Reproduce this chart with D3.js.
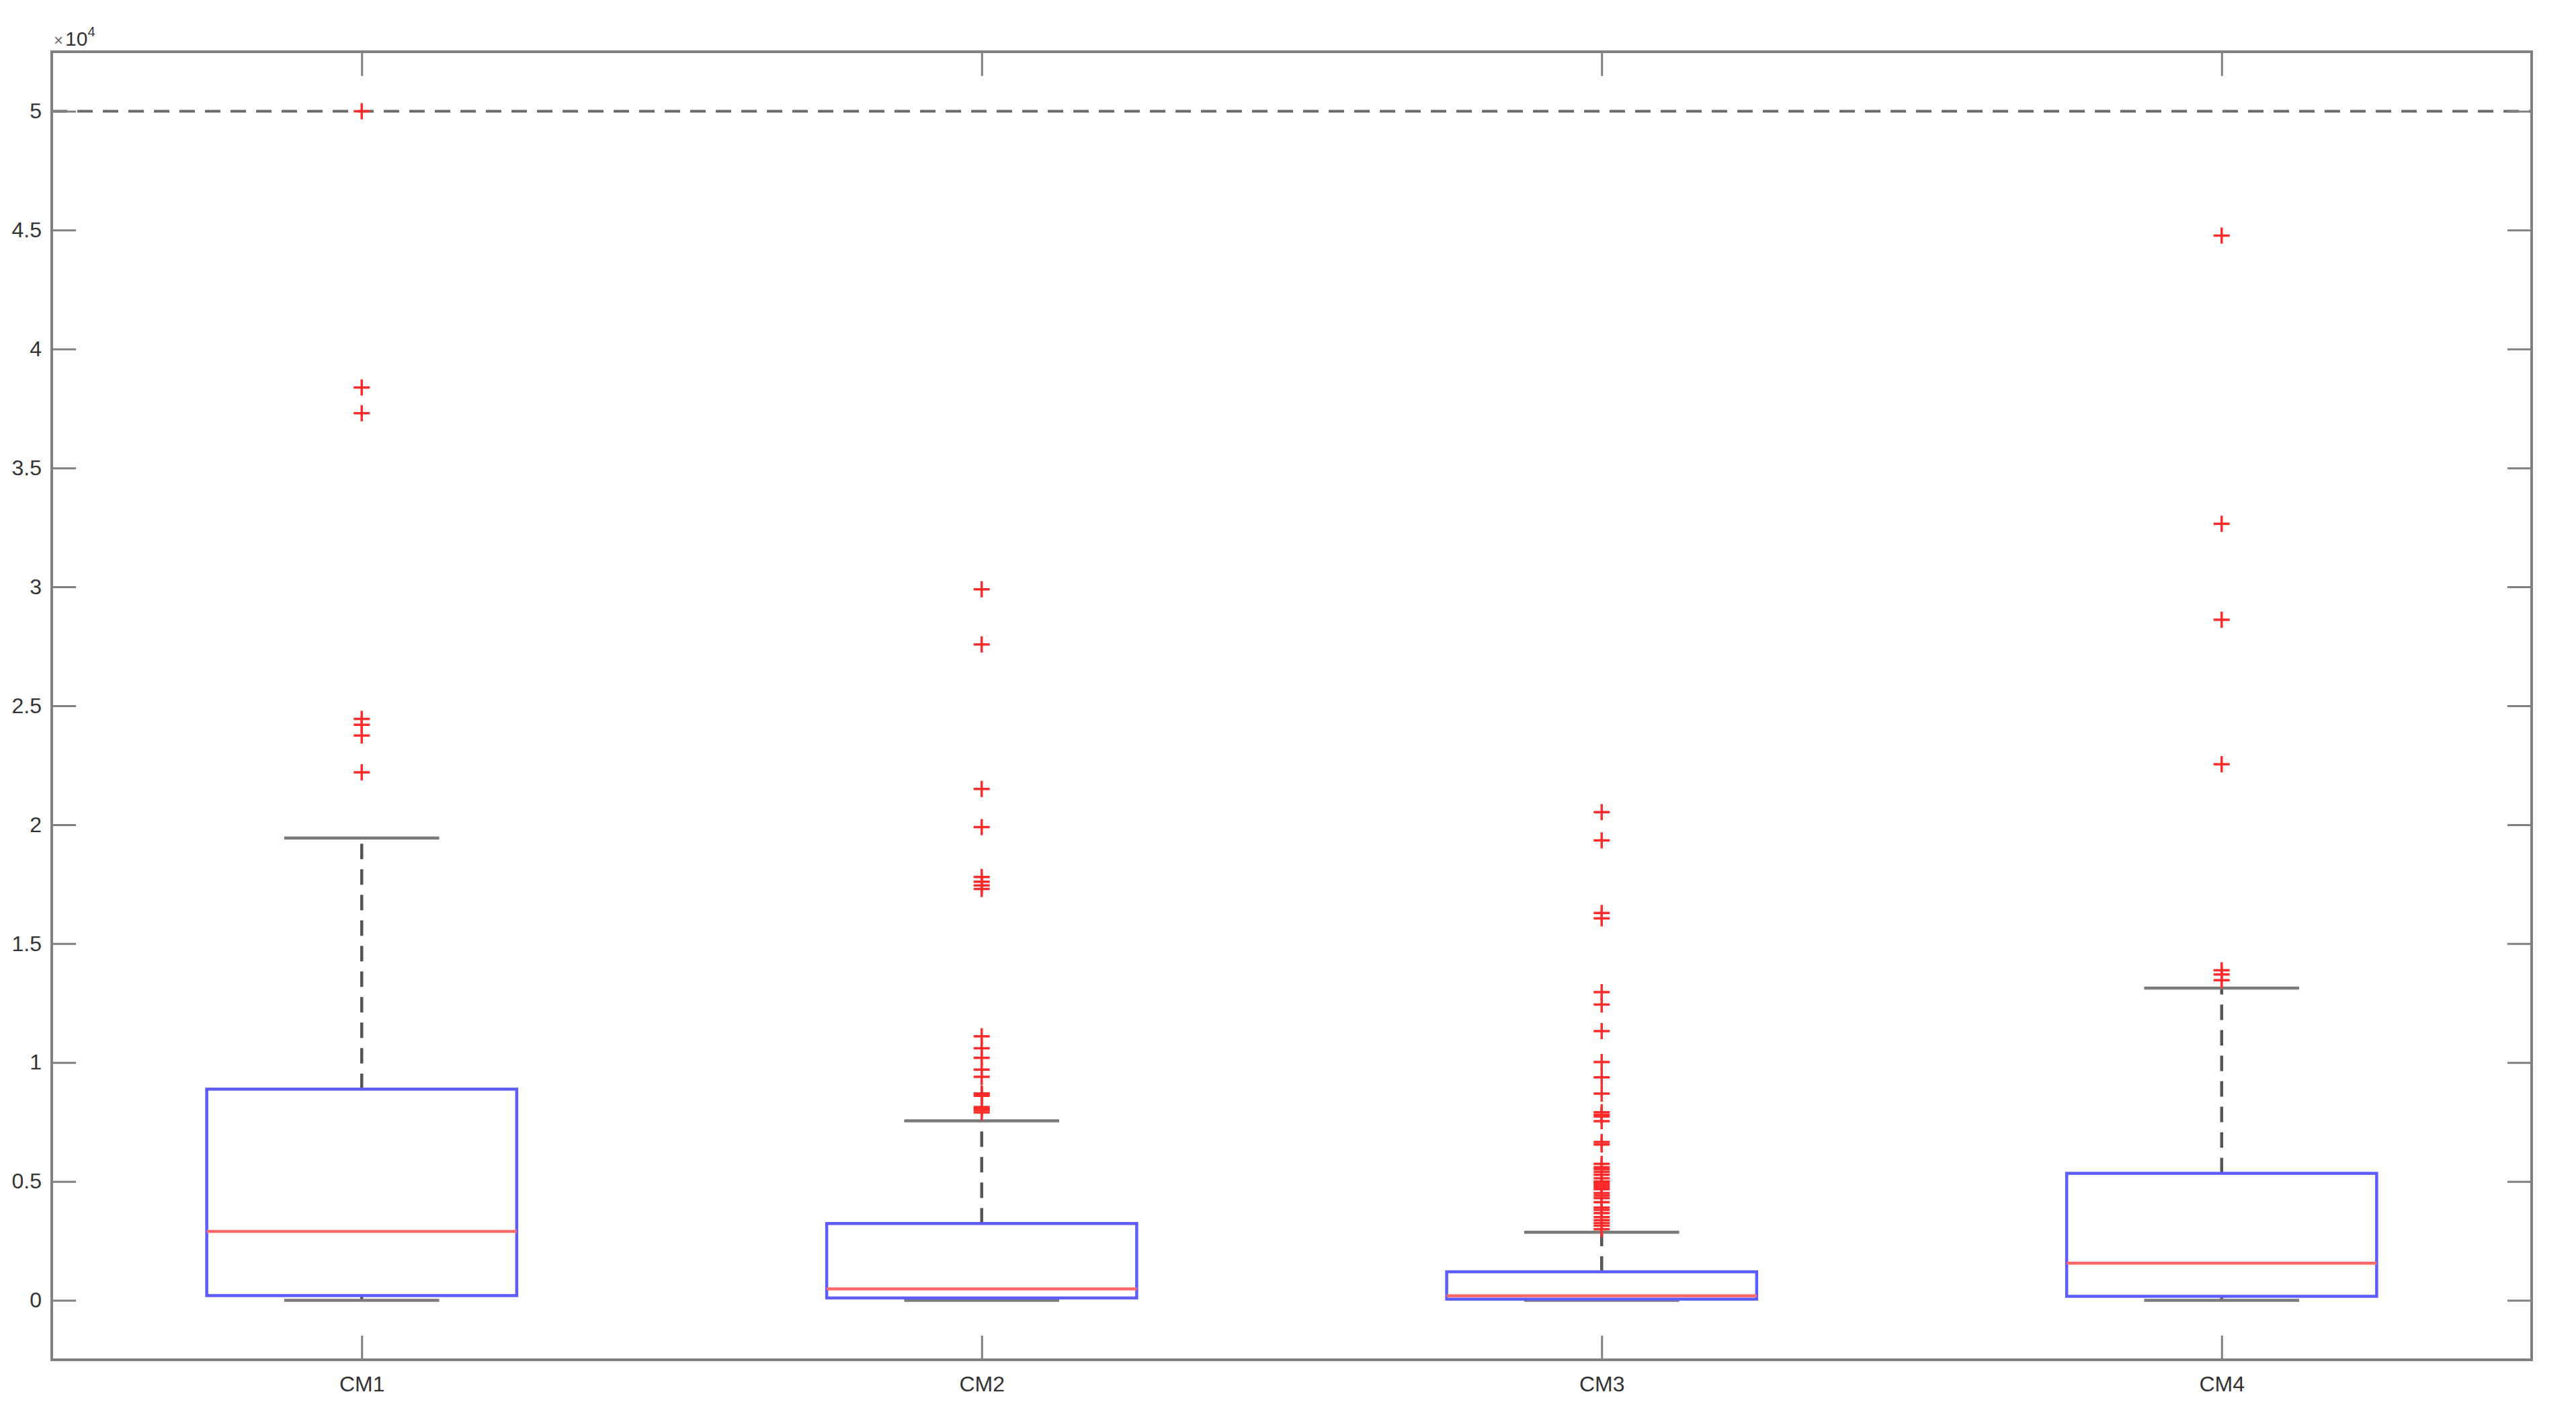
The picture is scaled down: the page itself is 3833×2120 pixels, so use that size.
<!DOCTYPE html>
<html>
<head>
<meta charset="utf-8">
<script src="https://cdn.jsdelivr.net/npm/d3@7"></script>
<style>
  html, body { margin: 0; padding: 0; background: #ffffff; }
  svg { display: block; }
  text { font-family: "Liberation Sans", Arial, Helvetica, sans-serif; }
</style>
</head>
<body>
<svg id="chart" width="3833" height="2120"></svg>
<script>
// ---------- data ----------
const categories = ["CM1", "CM2", "CM3", "CM4"];
const q1Values = [200, 100, 50, 170];
const medianValues = [2900, 480, 190, 1560];
const q3Values = [8880, 3230, 1200, 5340];
const whiskerLowValues = [0, 0, 0, 0];
const whiskerHighValues = [19440, 7550, 2860, 13130];

const outliersCM1 = [50000, 38380, 37300, 24450, 24200, 23750, 22200];
const outliersCM2 = [29900, 27580, 21500, 19900, 17800, 17600, 17450, 17300,
                     11100, 10600, 10200, 9700, 9400, 8700, 8660, 8600, 8130, 8050, 8000, 7900];
const outliersCM3 = [20530, 19340, 16290, 16060, 12960, 12440, 11320, 10020, 9380, 8690,
                     7910, 7800, 7730, 7530, 6660, 6550, 5740, 5600, 5510, 5400, 5280, 5130,
                     5000, 4970, 4900, 4820, 4750, 4670, 4510, 4400, 4300, 4130, 3900, 3800,
                     3670, 3500, 3370, 3250, 3140, 2990];
const outliersCM4 = [44770, 32650, 28620, 22540, 13880, 13700, 13460];
const outlierSets = [outliersCM1, outliersCM2, outliersCM3, outliersCM4];

const yTickValues = [0, 5000, 10000, 15000, 20000, 25000, 30000, 35000, 40000, 45000, 50000];
const yTickLabels = ["0", "0.5", "1", "1.5", "2", "2.5", "3", "3.5", "4", "4.5", "5"];
const referenceLineValue = 50000;

// ---------- layout ----------
const plotLeft = 77, plotRight = 3767, plotTop = 77, plotBottom = 2023;
const svg = d3.select("#chart");

const x = d3.scaleLinear().domain([0.5, 4.5]).range([plotLeft, plotRight]);
const y = d3.scaleLinear().domain([-2500, 52500]).range([plotBottom, plotTop]);

const boxHalf = 0.25, capHalf = 0.125, tickLen = 36;
const axisColor = "#808080", textColor = "#333333";

// reference dashed line
svg.append("line")
  .attr("x1", x(0.5)).attr("x2", x(4.5))
  .attr("y1", y(referenceLineValue)).attr("y2", y(referenceLineValue))
  .attr("stroke", "#6a6a6a").attr("stroke-width", 4)
  .attr("stroke-dasharray", "23,15");

// ---------- boxes ----------
const boxData = categories.map((c, i) => ({
  c, pos: i + 1, q1: q1Values[i], med: medianValues[i], q3: q3Values[i],
  lo: whiskerLowValues[i], hi: whiskerHighValues[i], out: outlierSets[i]
}));

const g = svg.append("g");
boxData.forEach(d => {
  // whiskers (dashed)
  g.append("line")
    .attr("x1", x(d.pos)).attr("x2", x(d.pos))
    .attr("y1", y(d.q3)).attr("y2", y(d.hi))
    .attr("stroke", "#555").attr("stroke-width", 4.5).attr("stroke-dasharray", "23,15");
  g.append("line")
    .attr("x1", x(d.pos)).attr("x2", x(d.pos))
    .attr("y1", y(d.q1)).attr("y2", y(d.lo))
    .attr("stroke", "#555").attr("stroke-width", 4.5).attr("stroke-dasharray", "23,15");
  // caps
  [d.hi, d.lo].forEach(v => {
    g.append("line")
      .attr("x1", x(d.pos - capHalf)).attr("x2", x(d.pos + capHalf))
      .attr("y1", y(v)).attr("y2", y(v))
      .attr("stroke", "#7a7a7a").attr("stroke-width", 4.5);
  });
  // box
  g.append("rect")
    .attr("x", x(d.pos - boxHalf)).attr("width", x(d.pos + boxHalf) - x(d.pos - boxHalf))
    .attr("y", y(d.q3)).attr("height", y(d.q1) - y(d.q3))
    .attr("fill", "none").attr("stroke", "#5c5cff").attr("stroke-width", 4.5);
  // median
  g.append("line")
    .attr("x1", x(d.pos - boxHalf)).attr("x2", x(d.pos + boxHalf))
    .attr("y1", y(d.med)).attr("y2", y(d.med))
    .attr("stroke", "#ff6a6a").attr("stroke-width", 4.5);
  // outliers
  const s = 12;
  d.out.forEach(v => {
    const cx = x(d.pos), cy = y(v);
    g.append("path")
      .attr("d", `M${cx - s},${cy}H${cx + s}M${cx},${cy - s}V${cy + s}`)
      .attr("stroke", "#ff2a2a").attr("stroke-width", 3.5).attr("fill", "none");
  });
});

// ---------- axes ----------
function styleAxis(sel, showText) {
  sel.select(".domain").remove();
  sel.selectAll(".tick line").attr("stroke", axisColor).attr("stroke-width", 3);
  sel.selectAll(".tick text")
    .attr("fill", textColor)
    .style("font-size", "32px")
    .style("font-family", "'Liberation Sans', Arial, sans-serif")
    .style("display", showText ? null : "none");
}

svg.append("g").attr("transform", `translate(${plotLeft},0)`)
  .call(d3.axisLeft(y).tickValues(yTickValues)
    .tickFormat((d, i) => yTickLabels[i]).tickSize(-tickLen).tickPadding(15))
  .call(sel => styleAxis(sel, true));

svg.append("g").attr("transform", `translate(${plotRight},0)`)
  .call(d3.axisRight(y).tickValues(yTickValues).tickSize(-tickLen))
  .call(sel => styleAxis(sel, false));

svg.append("g").attr("transform", `translate(0,${plotBottom})`)
  .call(d3.axisBottom(x).tickValues([1, 2, 3, 4])
    .tickFormat((d, i) => categories[i]).tickSize(-tickLen).tickPadding(24))
  .call(sel => styleAxis(sel, true));

svg.append("g").attr("transform", `translate(0,${plotTop})`)
  .call(d3.axisTop(x).tickValues([1, 2, 3, 4]).tickSize(-tickLen))
  .call(sel => styleAxis(sel, false));

// frame
svg.append("rect")
  .attr("x", plotLeft).attr("y", plotTop)
  .attr("width", plotRight - plotLeft).attr("height", plotBottom - plotTop)
  .attr("fill", "none").attr("stroke", axisColor).attr("stroke-width", 4);

// exponent label
const expo = svg.append("text")
  .attr("x", plotLeft + 3).attr("y", 68)
  .attr("fill", textColor);
expo.append("tspan").text("×").style("font-size", "24px").attr("fill", "#6a6a6a");
expo.append("tspan").text("10").style("font-size", "30px").attr("dx", 3);
expo.append("tspan").text("4").style("font-size", "20px").attr("dy", -14);
</script>
</body>
</html>
